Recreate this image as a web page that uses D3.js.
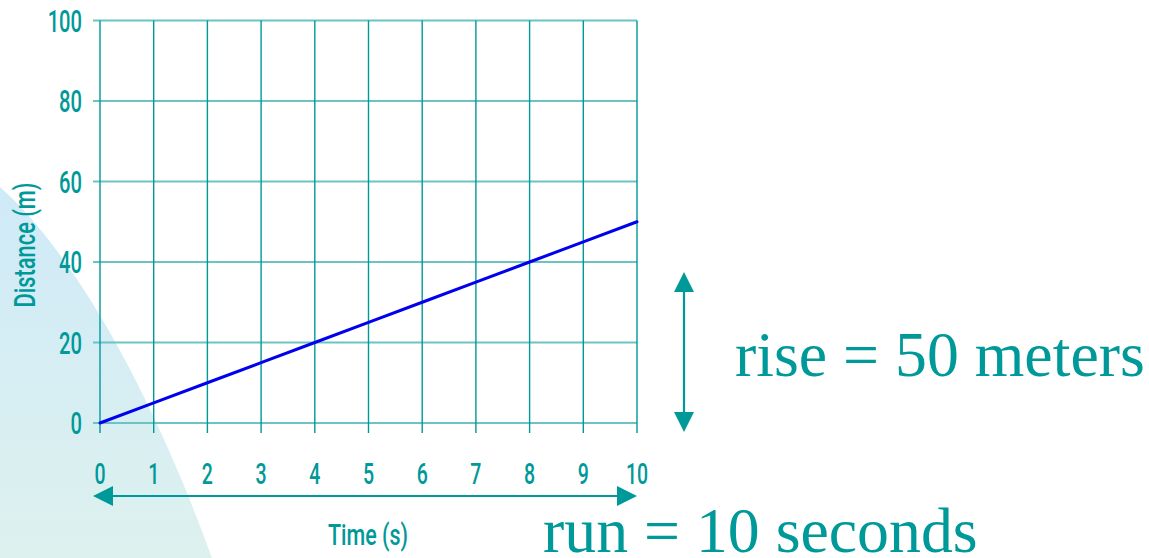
<!DOCTYPE html>
<html>
<head>
<meta charset="utf-8">
<script src="https://cdn.jsdelivr.net/npm/d3@7"></script>
<style>
  html, body { margin: 0; padding: 0; background: #ffffff; }
  svg { display: block; }
</style>
</head>
<body>
<svg id="chart" width="1149" height="558"></svg>
<script>
// Distance–time data for a runner moving at constant speed
const times = [0, 1, 2, 3, 4, 5, 6, 7, 8, 9, 10];
const distances = [0, 5, 10, 15, 20, 25, 30, 35, 40, 45, 50];
const timeTicks = [0, 1, 2, 3, 4, 5, 6, 7, 8, 9, 10];
const distanceTicks = [0, 20, 40, 60, 80, 100];
const xTitle = "Time (s)";
const yTitle = "Distance (m)";
const riseLabel = "rise = 50 meters";
const runLabel = "run = 10 seconds";

const TEAL = "#009999";
const GRID_H = "#6cc3c3";
const BLUE = "#0000ee";
const condensed = "Roboto, 'Noto Sans', sans-serif";
const squeeze = 0.65;

const svg = d3.select("#chart");

const x = d3.scaleLinear().domain([0, 10]).range([100, 637]);
const y = d3.scaleLinear().domain([0, 100]).range([423, 20.5]);

// Soft decorative backdrop in the lower-left corner
const defs = svg.append("defs");
const grad = defs.append("linearGradient")
  .attr("id", "backdrop").attr("x1", 0).attr("y1", 0).attr("x2", 0).attr("y2", 1);
grad.append("stop").attr("offset", "0%").attr("stop-color", "#cfeaf8");
grad.append("stop").attr("offset", "100%").attr("stop-color", "#ddf1ee");
svg.append("path")
  .attr("d", "M0,187 C60,240 140,360 212,558 L0,558 Z")
  .attr("fill", "url(#backdrop)");

// Gridlines: horizontal lines extend left as ticks, vertical lines extend down
const grid = svg.append("g");
grid.selectAll("line.h").data(distanceTicks).join("line")
  .attr("class", "h")
  .attr("x1", x(0) - 7).attr("x2", x(10))
  .attr("y1", d => y(d)).attr("y2", d => y(d))
  .attr("stroke", GRID_H).attr("stroke-width", 2);
grid.selectAll("line.v").data(timeTicks).join("line")
  .attr("class", "v")
  .attr("x1", d => x(d)).attr("x2", d => x(d))
  .attr("y1", y(100)).attr("y2", y(0) + 10)
  .attr("stroke", TEAL).attr("stroke-width", 1.4);

// Y tick labels
svg.append("g").selectAll("g").data(distanceTicks).join("g")
  .attr("transform", d => `translate(82,${y(d)})`)
  .append("text")
  .attr("transform", `scale(${squeeze},1)`)
  .attr("text-anchor", "end")
  .attr("dy", "0.36em")
  .attr("font-family", condensed)
  .attr("font-weight", 500)
  .attr("font-size", 31)
  .attr("fill", TEAL)
  .text(d => d);

// X tick labels
svg.append("g").selectAll("g").data(timeTicks).join("g")
  .attr("transform", d => `translate(${x(d)},473)`)
  .append("text")
  .attr("transform", `scale(${squeeze},1)`)
  .attr("text-anchor", "middle")
  .attr("dy", "0.36em")
  .attr("font-family", condensed)
  .attr("font-weight", 500)
  .attr("font-size", 30)
  .attr("fill", TEAL)
  .text(d => d);

// Axis titles
svg.append("text")
  .attr("transform", "translate(35,245) rotate(-90)")
  .attr("text-anchor", "middle")
  .attr("font-family", condensed)
  .attr("font-weight", 500)
  .attr("font-size", 30)
  .attr("textLength", 125)
  .attr("lengthAdjust", "spacingAndGlyphs")
  .attr("fill", TEAL)
  .text(yTitle);

svg.append("text")
  .attr("x", 368).attr("y", 545)
  .attr("text-anchor", "middle")
  .attr("font-family", condensed)
  .attr("font-weight", 500)
  .attr("font-size", 30)
  .attr("textLength", 80)
  .attr("lengthAdjust", "spacingAndGlyphs")
  .attr("fill", TEAL)
  .text(xTitle);

// Distance line
const line = d3.line().x((d, i) => x(times[i])).y(d => y(d));
svg.append("path")
  .datum(distances)
  .attr("d", line)
  .attr("fill", "none")
  .attr("stroke", BLUE)
  .attr("stroke-width", 3)
  .attr("stroke-linecap", "round");

// Double-headed arrows
function doubleArrow(x1, y1, x2, y2, head, half) {
  const g = svg.append("g");
  const dx = x2 - x1, dy = y2 - y1;
  const len = Math.hypot(dx, dy);
  const ux = dx / len, uy = dy / len;
  const px = -uy, py = ux;
  g.append("line")
    .attr("x1", x1 + ux * head).attr("y1", y1 + uy * head)
    .attr("x2", x2 - ux * head).attr("y2", y2 - uy * head)
    .attr("stroke", TEAL).attr("stroke-width", 2.2);
  const tri = (tx, ty, dir) => {
    const bx = tx - ux * head * dir, by = ty - uy * head * dir;
    return `M${tx},${ty}L${bx + px * half},${by + py * half}L${bx - px * half},${by - py * half}Z`;
  };
  g.append("path").attr("d", tri(x2, y2, 1)).attr("fill", TEAL);
  g.append("path").attr("d", tri(x1, y1, -1)).attr("fill", TEAL);
}
doubleArrow(x(0) - 7, 496, x(10), 496, 20, 10);
doubleArrow(684, 272, 684, 432, 20, 10);

// Rise / run annotations
const serif = "'Liberation Serif', 'Times New Roman', serif";
svg.append("text")
  .attr("x", 735).attr("y", 376)
  .attr("font-family", serif)
  .attr("font-size", 63.8)
  .attr("fill", TEAL)
  .text(riseLabel);

svg.append("text")
  .attr("x", 543).attr("y", 552)
  .attr("font-family", serif)
  .attr("font-size", 63.8)
  .attr("fill", TEAL)
  .text(runLabel);
</script>
</body>
</html>
